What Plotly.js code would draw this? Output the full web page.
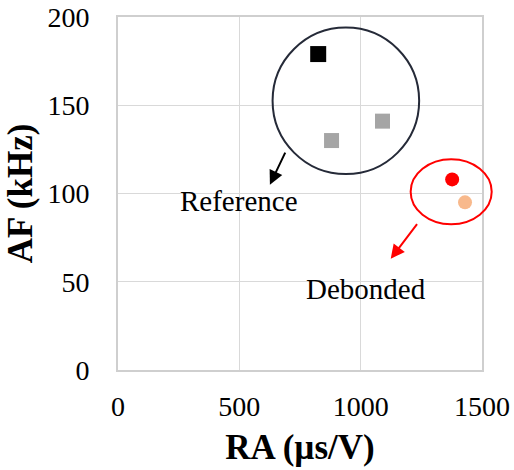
<!DOCTYPE html>
<html>
<head>
<meta charset="utf-8">
<script src="https://cdn.plot.ly/plotly-3.0.1.min.js"></script>
<style>html,body{margin:0;padding:0;background:#fff;}#chart{width:514px;height:470px;}</style>
</head>
<body>
<div id="chart"></div>
<script>
// Data
const refBlackRA = [825];
const refBlackAF = [179];
const refGrayRA = [880, 1090];
const refGrayAF = [130, 141];
const debRedRA = [1377];
const debRedAF = [108];
const debPeachRA = [1430];
const debPeachAF = [95];
const xTicks = [0, 500, 1000, 1500];
const yTicks = [0, 50, 100, 150, 200];
const xTitle = 'RA (µs/V)';
const yTitle = 'AF (kHz)';
const labelRef = 'Reference';
const labelDeb = 'Debonded';

const serif = '"Liberation Serif", "Times New Roman", serif';
const xRange = [0, 1500];
const yRange = [0, 200];

const traces = [
  {x: refBlackRA, y: refBlackAF, type: 'scatter', mode: 'markers', name: 'Reference 1',
   marker: {symbol: 'square', size: 16, color: '#000000'}},
  {x: refGrayRA, y: refGrayAF, type: 'scatter', mode: 'markers', name: 'Reference 2',
   marker: {symbol: 'square', size: 15, color: '#a5a5a5'}},
  {x: debRedRA, y: debRedAF, type: 'scatter', mode: 'markers', name: 'Debonded 1',
   marker: {symbol: 'circle', size: 14, color: '#ff0000'}},
  {x: debPeachRA, y: debPeachAF, type: 'scatter', mode: 'markers', name: 'Debonded 2',
   marker: {symbol: 'circle', size: 14, color: '#f8b98c'}}
];

function px(v){ return (v - xRange[0]) / (xRange[1] - xRange[0]); }
function py(v){ return (v - yRange[0]) / (yRange[1] - yRange[0]); }

const layout = {
  width: 514, height: 470,
  margin: {l: 118, r: 32, t: 17, b: 100},
  paper_bgcolor: '#ffffff', plot_bgcolor: '#ffffff',
  showlegend: false,
  font: {family: serif, color: '#000000'},
  xaxis: {
    range: xRange, tickvals: xTicks, ticktext: xTicks.map(String),
    showgrid: true, gridcolor: '#d9d9d9', gridwidth: 1,
    showline: true, mirror: true, linecolor: '#cfcfcf', linewidth: 2,
    zeroline: false, ticks: '', ticklabelstandoff: 10,
    tickfont: {family: serif, size: 28, color: '#000000'},
    title: {text: '<b>' + xTitle + '</b>', font: {family: serif, size: 35, color: '#000000'}, standoff: 14},
    automargin: false, fixedrange: true
  },
  yaxis: {
    range: yRange, tickvals: yTicks, ticktext: yTicks.map(String),
    showgrid: true, gridcolor: '#d9d9d9', gridwidth: 1,
    showline: true, mirror: true, linecolor: '#cfcfcf', linewidth: 2,
    zeroline: false, ticks: '', ticklabelstandoff: 21,
    tickfont: {family: serif, size: 28, color: '#000000'},
    title: {text: '<b>' + yTitle + '</b>', font: {family: serif, size: 35, color: '#000000'}, standoff: 4},
    automargin: false, fixedrange: true
  },
  shapes: [
    {type: 'circle', xref: 'x', yref: 'y', x0: 637, x1: 1241, y0: 111, y1: 194,
     line: {color: '#252a38', width: 2}, fillcolor: 'rgba(0,0,0,0)', layer: 'above'},
    {type: 'circle', xref: 'paper', yref: 'paper', x0: px(1206), x1: px(1540), y0: py(82.6), y1: py(119.4),
     line: {color: '#ff0000', width: 2}, fillcolor: 'rgba(0,0,0,0)', layer: 'above'}
  ],
  annotations: [
    {x: 626, y: 105, xref: 'x', yref: 'y', ax: 692, ay: 124, axref: 'x', ayref: 'y',
     showarrow: true, arrowhead: 2, arrowsize: 1.4, arrowwidth: 2, arrowcolor: '#000000', text: ''},
    {x: 1124, y: 63, xref: 'x', yref: 'y', ax: 1237, ay: 83.5, axref: 'x', ayref: 'y',
     showarrow: true, arrowhead: 2, arrowsize: 1.4, arrowwidth: 2, arrowcolor: '#ff0000', text: ''},
    {x: 497, y: 96, xref: 'x', yref: 'y', text: labelRef, showarrow: false,
     font: {family: serif, size: 29, color: '#000000'}, xanchor: 'center', yanchor: 'middle'},
    {x: 1024, y: 46, xref: 'x', yref: 'y', text: labelDeb, showarrow: false,
     font: {family: serif, size: 29, color: '#000000'}, xanchor: 'center', yanchor: 'middle'}
  ]
};

Plotly.newPlot('chart', traces, layout, {displayModeBar: false, staticPlot: true});
</script>
</body>
</html>
